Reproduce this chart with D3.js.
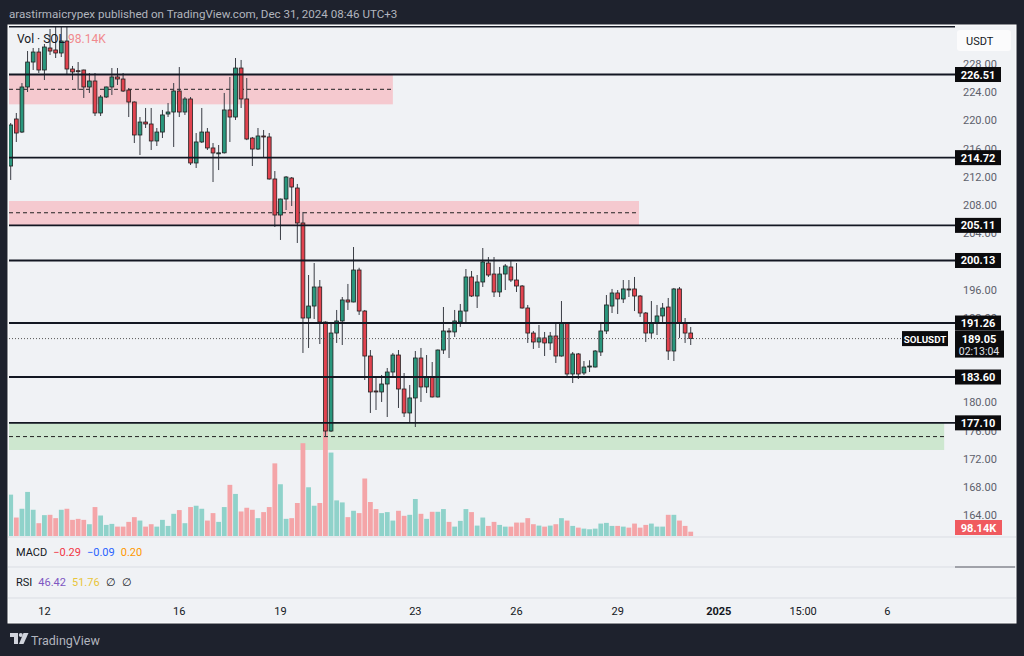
<!DOCTYPE html>
<html><head><meta charset="utf-8">
<script src="https://cdn.jsdelivr.net/npm/d3@7"></script>
<style>body{margin:0;background:#1e222d;} svg{display:block;font-family:Roboto,"Liberation Sans",sans-serif;}</style>
</head><body><svg id="c" width="1024" height="656"></svg>
<script>
// ---- data (4h SOLUSDT candles, Dec 11 03:00 -> Dec 31 07:00) ----
const open=[213.53,220.20,218.35,224.74,228.28,229.70,227.15,230.27,229.99,229.56,
231.26,227.29,227.05,227.15,224.74,225.59,221.05,223.32,224.74,226.16,
225.87,224.31,222.61,217.93,219.77,219.49,217.08,218.35,220.91,221.19,
224.17,221.19,223.04,213.96,216.94,218.35,216.09,215.38,215.40,221.48,
220.48,227.43,223.04,217.50,215.94,217.79,217.65,211.69,206.58,208.85,
211.83,210.41,205.45,191.97,193.67,196.37,191.40,175.94,189.84,191.55,
194.53,194.24,198.78,192.96,186.58,181.62,181.48,182.61,184.31,186.72,
181.90,178.50,180.63,186.30,182.19,183.60,180.77,187.43,190.13,189.99,
191.40,192.96,197.79,195.09,197.08,199.77,198.21,195.66,198.21,199.21,
197.36,196.51,193.39,189.84,188.57,189.14,188.43,189.42,186.58,191.26,
184.03,186.87,184.17,185.10,185.02,187.15,190.13,193.67,195.52,194.67,
196.09,196.09,195.09,192.68,189.84,191.26,192.26,193.53,187.29,196.09,
191.26,189.84];
const close=[219.35,218.21,224.74,228.28,229.70,227.15,230.41,229.84,229.56,231.26,
227.29,226.87,227.00,224.74,225.59,221.05,223.32,224.74,226.16,225.87,
224.17,222.61,217.93,219.77,219.49,217.08,218.35,220.77,221.19,224.17,
221.19,223.04,213.96,216.94,218.35,216.09,215.38,215.40,221.48,220.48,
227.43,223.04,217.36,215.94,217.79,217.65,211.69,206.58,208.85,211.97,
210.55,205.45,191.97,193.67,196.37,191.40,175.94,189.84,191.55,194.53,
194.24,198.78,192.96,186.58,181.48,181.50,182.61,184.31,186.72,181.90,
178.50,180.63,186.30,182.19,183.60,180.77,187.43,190.13,190.00,191.55,
192.96,197.79,195.09,197.08,199.92,198.07,195.66,198.21,199.35,197.36,
196.51,193.39,189.84,188.57,189.14,188.43,189.42,186.58,191.26,184.03,
186.87,184.03,185.02,185.16,187.29,190.13,193.82,195.52,194.67,196.09,
196.00,195.09,192.68,189.84,191.26,192.26,193.39,187.29,196.09,191.26,
189.84,189.05];
const high=[219.63,221.05,225.30,229.84,230.27,230.27,230.84,232.96,233.67,233.25,
233.67,227.72,228.28,227.20,226.72,226.72,223.60,224.80,227.43,227.43,
226.72,224.60,222.70,220.48,221.76,221.76,218.92,221.48,222.47,225.30,
227.57,223.32,223.32,218.21,221.76,218.92,216.79,216.51,223.89,226.16,
228.85,228.57,226.01,217.65,218.92,218.64,218.21,212.82,208.90,212.11,
211.97,210.98,207.01,198.07,199.77,197.36,191.50,191.26,193.11,194.95,
196.80,202.04,199.10,193.11,187.43,183.60,183.89,184.88,187.01,187.43,
184.17,182.47,187.29,187.72,186.72,185.73,187.50,193.53,190.55,193.11,
193.96,198.92,198.64,198.07,201.90,200.62,200.62,199.21,199.63,200.06,
199.77,196.65,193.82,190.13,190.98,189.99,189.99,191.26,194.38,191.40,
187.15,187.01,185.87,185.98,187.43,191.26,195.23,196.09,195.94,197.36,
197.36,197.79,195.23,192.82,194.38,193.82,194.10,194.81,196.23,196.37,
191.97,190.70];
const low=[211.55,216.94,218.21,224.03,227.15,226.72,225.73,229.28,228.85,228.99,
226.58,225.73,224.31,223.18,223.89,220.62,220.62,223.18,223.60,225.02,
224.03,220.48,216.79,215.09,218.92,215.80,216.37,217.50,220.48,216.23,
220.48,220.77,213.67,213.25,216.79,215.80,211.26,212.96,215.30,216.94,
220.06,221.76,217.20,213.53,215.80,214.67,211.60,204.88,203.04,207.29,
207.86,202.61,187.01,187.72,191.83,188.28,175.09,175.80,188.43,188.14,
193.11,194.20,192.40,183.18,178.50,178.92,180.06,177.93,183.60,179.21,
177.93,177.08,176.51,180.06,181.33,180.70,180.70,186.87,186.30,189.28,
190.70,191.40,194.95,193.39,196.37,197.79,194.95,194.95,195.94,197.08,
195.66,193.30,188.43,187.58,187.72,186.58,187.43,185.59,186.50,183.46,
182.75,183.32,183.89,184.31,184.95,186.58,189.70,192.68,192.54,194.10,
194.95,192.96,192.12,188.57,189.14,189.56,191.26,186.02,185.87,189.14,
188.43,188.14];
const volume=[943,421,621,1005,598,292,476,483,407,598,
621,368,391,368,269,660,467,253,276,214,
214,322,430,352,214,269,214,368,230,506,
591,292,660,690,621,352,522,322,660,1166,
959,559,644,598,407,545,660,1656,1180,391,
407,752,2116,1111,690,752,2530,1902,812,766,
430,575,522,1311,775,614,522,545,352,575,
460,483,844,506,391,552,552,614,322,214,
345,614,545,237,421,230,322,253,214,214,
306,306,407,269,237,214,237,269,407,352,
230,191,168,154,168,283,299,230,230,214,
191,283,191,253,283,214,214,483,483,352,
230,98.14];

// price-scale labels that are not fully hidden behind the level boxes
const priceTicks=[228,224,220,216,212,208,204,196,192,180,176,172,168,164];
const levels=[226.51,214.72,205.11,200.13,191.26,183.60,177.10];
const zoneTop=[226.51,208.57,177.10];
const zoneBottom=[222.28,205.16,173.25];
const zoneMid=[224.41,206.90,175.15];
const zoneEndBar=[68.0,111.8,166.1];
const zoneColor=["#f5c9cf","#f5c9cf","#cde7cf"];
const timeTickBar=[6,30,48,72,90,108,126,141,156];
const timeTickText=["12","16","19","23","26","29","2025","15:00","6"];
const lastPrice=189.05, countdown="02:13:04", lastVolText="98.14K";
const macdVals=["\u22120.29","\u22120.09","0.20"], macdColors=["#f23645","#2962ff","#ff9800"];
const rsiVals=["46.42","51.76","\u2205","\u2205"], rsiColors=["#7e57c2","#e8c53a","#131722","#131722"];

// ---- layout ----
const svg=d3.select("#c");
const plotL=9, plotR=948, paneTop=26, volBase=536;
const x=d3.scaleLinear().domain([0,121]).range([10.7,10.7+121*5.62]);
const y=d3.scaleLinear().domain([164,228]).range([515.2,64]);
const v=d3.scaleLinear().domain([0,2280]).range([volBase,volBase-100]);
const GREEN="#2a977d", RED="#e2434f";

svg.append("rect").attr("width",1024).attr("height",656).attr("fill","#1e222d");
svg.append("text").attr("x",9).attr("y",18).attr("fill","#b2b5be").attr("font-size",11.6)
  .text("arastirmaicrypex published on TradingView.com, Dec 31, 2024 08:46 UTC+3");
svg.append("rect").attr("x",8).attr("y",25).attr("width",1008).attr("height",598)
  .attr("fill","#f0f2f5").attr("stroke","#ffffff").attr("stroke-width",1);

const defs=svg.append("defs");
defs.append("clipPath").attr("id","clipMain").append("rect")
  .attr("x",plotL).attr("y",paneTop+1).attr("width",plotR-plotL).attr("height",volBase-paneTop);
const g=svg.append("g").attr("clip-path","url(#clipMain)");

// zones
zoneTop.forEach((t,k)=>{
  g.append("rect").attr("x",plotL).attr("y",y(t)).attr("width",x(zoneEndBar[k])-plotL)
    .attr("height",y(zoneBottom[k])-y(t)).attr("fill",zoneColor[k]);
});
// volume
g.selectAll("rect.vol").data(volume).join("rect").attr("class","vol")
  .attr("x",(d,i)=>x(i)-2.4).attr("width",4.8)
  .attr("y",d=>v(d)).attr("height",d=>volBase-v(d))
  .attr("fill",(d,i)=>close[i]>=open[i]?"#8fd2ca":"#f4a5a8");
// zone dashed midlines
zoneMid.forEach((m,k)=>{
  g.append("line").attr("x1",plotL).attr("x2",x(zoneEndBar[k])).attr("y1",y(m)).attr("y2",y(m))
    .attr("stroke","#222").attr("stroke-width",1).attr("stroke-dasharray","4,3");
});
// candles
const idx=d3.range(open.length);
g.selectAll("line.wick").data(idx).join("line").attr("class","wick")
  .attr("x1",i=>x(i)).attr("x2",i=>x(i)).attr("y1",i=>y(high[i])).attr("y2",i=>y(low[i]))
  .attr("stroke","#3a3d45").attr("stroke-width",1);
g.selectAll("rect.body").data(idx).join("rect").attr("class","body")
  .attr("x",i=>x(i)-1.9).attr("width",3.8)
  .attr("y",i=>y(Math.max(open[i],close[i])))
  .attr("height",i=>Math.max(1,Math.abs(y(open[i])-y(close[i]))))
  .attr("fill",i=>close[i]>=open[i]?GREEN:RED)
  .attr("stroke","#202020").attr("stroke-width",0.8);
// current price dotted line
svg.append("line").attr("x1",plotL).attr("x2",903).attr("y1",y(lastPrice)).attr("y2",y(lastPrice))
  .attr("stroke","#555").attr("stroke-width",1).attr("stroke-dasharray","1,2");
// level lines
svg.append("line").attr("x1",plotL).attr("x2",955).attr("y1",26.8).attr("y2",26.8)
  .attr("stroke","#131722").attr("stroke-width",1.6);
levels.forEach(l=>{
  svg.append("line").attr("x1",plotL).attr("x2",956).attr("y1",y(l)).attr("y2",y(l))
    .attr("stroke","#131722").attr("stroke-width",1.8);
});

// price axis
const ax=svg.append("g").attr("transform","translate(958,0)")
  .call(d3.axisRight(y).tickValues(priceTicks).tickSize(0).tickPadding(5).tickFormat(d3.format(".2f")));
ax.select(".domain").remove();
ax.selectAll("text").attr("fill","#5d606b").attr("font-size",11).attr("font-family","Roboto,sans-serif");

svg.append("rect").attr("x",957).attr("y",30).attr("width",54).attr("height",21).attr("rx",3).attr("fill","#fbfbfc");
svg.append("text").attr("x",966).attr("y",45).attr("fill","#131722").attr("font-size",11).text("USDT");

levels.forEach(l=>{
  svg.append("rect").attr("x",955).attr("y",y(l)-7.5).attr("width",46).attr("height",15).attr("fill","#0b0b0d");
  svg.append("text").attr("x",978).attr("y",y(l)+4).attr("text-anchor","middle")
    .attr("fill","#fff").attr("font-size",11).attr("font-weight","bold").text(d3.format(".2f")(l));
});
// last price box
const ly=y(lastPrice);
svg.append("rect").attr("x",955).attr("y",ly-8).attr("width",49).attr("height",27).attr("fill","#0b0b0d");
svg.append("text").attr("x",979).attr("y",ly+4).attr("text-anchor","middle").attr("fill","#fff")
  .attr("font-size",11).attr("font-weight","bold").text(d3.format(".2f")(lastPrice));
svg.append("text").attr("x",979).attr("y",ly+16).attr("text-anchor","middle").attr("fill","#e0e3eb")
  .attr("font-size",10.5).text(countdown);
svg.append("rect").attr("x",902).attr("y",ly-7.5).attr("width",46).attr("height",15).attr("fill","#0b0b0d");
svg.append("text").attr("x",925).attr("y",ly+4).attr("text-anchor","middle").attr("fill","#fff")
  .attr("font-size",9.8).attr("font-weight","bold").text("SOLUSDT");
// last volume box
svg.append("rect").attr("x",955).attr("y",520).attr("width",47).attr("height",15).attr("fill","#f05a5f");
svg.append("text").attr("x",978.5).attr("y",531.5).attr("text-anchor","middle").attr("fill","#fff")
  .attr("font-size",11).attr("font-weight","bold").text(lastVolText);

// legend
const vt=svg.append("text").attr("x",17).attr("y",43).attr("font-size",12);
vt.append("tspan").attr("fill","#131722").text("Vol \u00b7 SOL ");
vt.append("tspan").attr("fill","#f08a8e").text(lastVolText);

// pane separators
[537,567,598].forEach(py=>{
  svg.append("line").attr("x1",8).attr("x2",1016).attr("y1",py).attr("y2",py).attr("stroke","#dadde3");
});
svg.append("line").attr("x1",955).attr("x2",1015).attr("y1",567).attr("y2",567).attr("stroke","#888b93").attr("stroke-width",1.5);

const mt=svg.append("text").attr("x",16).attr("y",556).attr("font-size",11);
mt.append("tspan").attr("fill","#131722").text("MACD");
macdVals.forEach((t,k)=>mt.append("tspan").attr("dx",6).attr("fill",macdColors[k]).text(t));
const rt=svg.append("text").attr("x",16).attr("y",586).attr("font-size",11);
rt.append("tspan").attr("fill","#131722").text("RSI");
rsiVals.forEach((t,k)=>rt.append("tspan").attr("dx",6).attr("fill",rsiColors[k]).text(t));

// time axis
svg.selectAll("text.tt").data(timeTickBar).join("text").attr("class","tt")
  .attr("x",d=>x(d)).attr("y",615).attr("text-anchor","middle").attr("font-size",11)
  .attr("fill","#131722").attr("font-weight",(d,i)=>timeTickText[i]==="2025"?"bold":"normal")
  .text((d,i)=>timeTickText[i]);

// footer logo
svg.append("path").attr("d","M10 633 h8 v11 h-4 v-7 h-4 z").attr("fill","#d1d4dc");
svg.append("circle").attr("cx",20.8).attr("cy",635).attr("r",2).attr("fill","#d1d4dc");
svg.append("path").attr("d","M23.5 633 h5 l-5 11 h-4.5 z").attr("fill","#d1d4dc");
svg.append("text").attr("x",31).attr("y",644.5).attr("fill","#b2b5be").attr("font-size",12.5).text("TradingView");
</script></body></html>
